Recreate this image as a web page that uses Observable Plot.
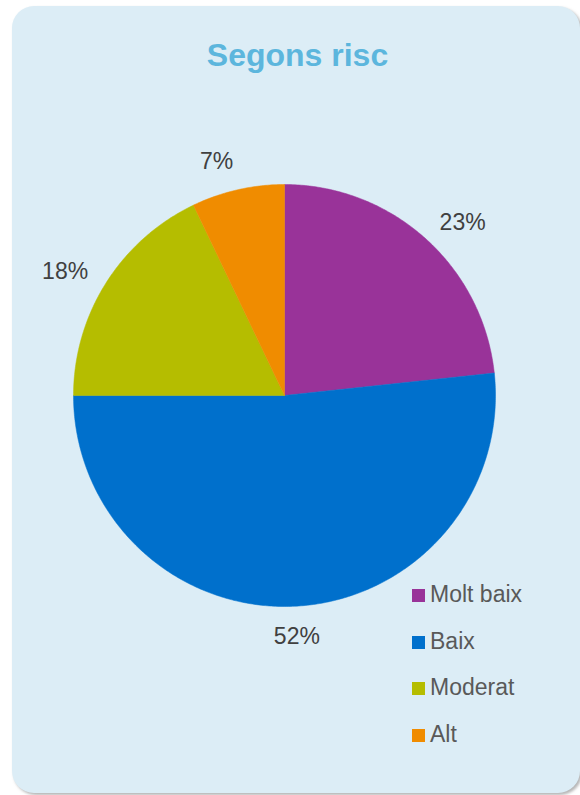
<!DOCTYPE html>
<html>
<head>
<meta charset="utf-8">
<script src="https://cdn.jsdelivr.net/npm/d3@7"></script>
<script src="https://cdn.jsdelivr.net/npm/@observablehq/plot@0.6"></script>
<style>
  html, body { margin: 0; padding: 0; background: #ffffff; width: 580px; height: 795px; overflow: hidden; }
  #panel { position: absolute; left: 12px; top: 6px; width: 568px; height: 787px; background: #dcedf6;
           border-radius: 22px; box-shadow: 2px 2px 3px rgba(120,120,120,0.55); }
  #title { position: absolute; left: 12px; width: 571px; top: 37px; margin: 0; text-align: center;
           font: bold 32px "Liberation Sans", Arial, sans-serif; color: #5cb6dd; }
  #chart { position: absolute; left: 0; top: 0; }
  #legend { position: absolute; left: 412px; top: 571px; font: 23px "Liberation Sans", Arial, sans-serif; color: #595959; }
  .row { height: 46.7px; display: flex; align-items: center; white-space: nowrap; }
  .sw { width: 13px; height: 13px; margin-right: 5px; margin-top: 2px; }
</style>
</head>
<body>
<div id="panel"></div>
<h2 id="title">Segons risc</h2>
<div id="chart"></div>
<div id="legend"></div>
<script>
const categories = ["Molt baix", "Baix", "Moderat", "Alt"];
const values = [23.3, 51.7, 17.9, 7.1];
const labels = ["23%", "52%", "18%", "7%"];
const colors = ["#993399", "#0070cc", "#b5bd00", "#f08c00"];

const pie = d3.pie().sort(null).value(d => d.value)(
  categories.map((c, i) => ({category: c, value: values[i], label: labels[i]}))
);

// polygon vertices for each slice in unit-circle data space
const slicePts = [];
pie.forEach(s => {
  const n = Math.max(2, Math.ceil((s.endAngle - s.startAngle) / 0.01));
  slicePts.push({category: s.data.category, x: 0, y: 0});
  for (let k = 0; k <= n; k++) {
    const a = s.startAngle + (s.endAngle - s.startAngle) * k / n;
    slicePts.push({category: s.data.category, x: Math.sin(a), y: Math.cos(a)});
  }
  slicePts.push({category: s.data.category, x: 0, y: 0});
});

const lab = pie.map(s => {
  const a = (s.startAngle + s.endAngle) / 2;
  const sx = Math.sin(a), cy = Math.cos(a);
  return {
    label: s.data.label, x: 1.1 * sx, y: 1.1 * cy,
    anchor: Math.abs(sx) < 0.15 ? "middle" : (sx > 0 ? "start" : "end"),
    line: cy > 0.9 ? "bottom" : (cy < -0.9 ? "top" : "middle")
  };
});

const R = 211, cx = 284, cy0 = 395;
const chart = Plot.plot({
  width: 580, height: 795, margin: 0,
  style: {background: "transparent", overflow: "visible"},
  x: {domain: [-1, 1], range: [cx - R, cx + R], axis: null},
  y: {domain: [-1, 1], range: [cy0 + R, cy0 - R], axis: null},
  color: {domain: categories, range: colors},
  marks: [
    Plot.line(slicePts, {x: "x", y: "y", z: "category", fill: "category", stroke: "category", strokeWidth: 0.5, curve: "linear"}),
    ...["start", "end", "middle"].flatMap(an => ["top", "bottom", "middle"].map(ln =>
      Plot.text(lab.filter(d => d.anchor === an && d.line === ln), {
        x: "x", y: "y", text: "label", textAnchor: an, lineAnchor: ln,
        fontSize: 23, fill: "#404040", fontFamily: "Liberation Sans, Arial, sans-serif"
      })))
  ]
});
document.getElementById("chart").appendChild(chart);

const legend = document.getElementById("legend");
categories.forEach((c, i) => {
  const row = document.createElement("div");
  row.className = "row";
  const sw = document.createElement("div");
  sw.className = "sw";
  sw.style.background = colors[i];
  const t = document.createElement("span");
  t.textContent = c;
  row.appendChild(sw); row.appendChild(t);
  legend.appendChild(row);
});
</script>
</body>
</html>
